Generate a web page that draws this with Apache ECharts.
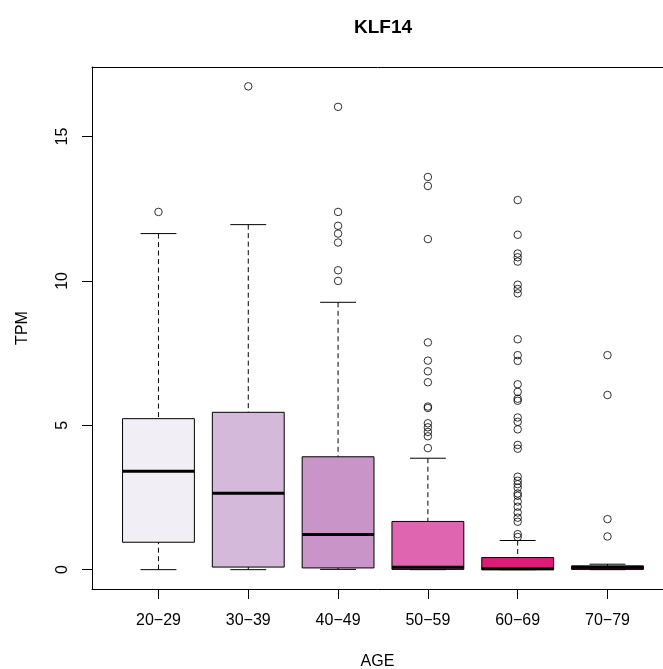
<!DOCTYPE html>
<html>
<head>
<meta charset="utf-8">
<script src="https://cdn.jsdelivr.net/npm/echarts@6/dist/echarts.min.js"></script>
<style>
  html, body { margin: 0; padding: 0; background: #fff; }
  #chart { width: 663px; height: 669px; }
</style>
</head>
<body>
<div id="chart"></div>
<script>
const ageGroups = ["20\u221229", "30\u221239", "40\u221249", "50\u221259", "60\u221269", "70\u221279"]
const whiskerLow = [0, 0, 0.01, 0, 0, 0]
const lowerQuartile = [0.95, 0.09, 0.06, 0.01, 0.0, 0.01]
const medians = [3.41, 2.65, 1.22, 0.08, 0.03, 0.08]
const upperQuartile = [5.23, 5.45, 3.91, 1.67, 0.42, 0.13]
const whiskerHigh = [11.64, 11.95, 9.26, 3.86, 1.01, 0.19]
const outliers = [
  [12.39],
  [16.74],
  [16.03, 12.39, 11.91, 11.64, 11.33, 10.37, 10.0],
  [13.6, 13.29, 11.45, 7.87, 7.24, 6.87, 6.49, 5.65, 5.6, 5.07, 4.93, 4.77, 4.62, 4.21],
  [12.8, 11.6, 10.95, 10.82, 10.67, 9.87, 9.72, 9.57, 7.98, 7.43, 7.23, 6.42, 6.16,
   5.92, 5.85, 5.27, 5.12, 4.86, 4.32, 4.19, 3.22, 3.08, 2.96, 2.84, 2.64, 2.56,
   2.36, 2.18, 1.98, 1.8, 1.66, 1.23, 1.13],
  [7.43, 6.05, 1.75, 1.15]
]
const yTicks = [0, 5, 10, 15]

// PuRd palette, one per box
const boxColors = ["#F1EEF6", "#D4B9DA", "#C994C7", "#DF65B0", "#DD1C77", "#980043"]
const font = "Liberation Sans, Arial, Helvetica, sans-serif"

const positions = ageGroups.map((_, i) => i + 1)
const boxData = positions.map((x, i) =>
  [x, whiskerLow[i], lowerQuartile[i], medians[i], upperQuartile[i], whiskerHigh[i]])
const outlierData = []
outliers.forEach((list, i) => list.forEach(v => outlierData.push([positions[i], v])))

// R style range: data range padded by 4%
const dataMax = Math.max(...whiskerHigh, ...outliers.flat())
const dataMin = Math.min(...whiskerLow)
const pad = (dataMax - dataMin) * 0.04
// the plot region runs past the right edge of the picture (to x = 6.74),
// so the visible part ends a bit before that
const xMin = 0.26
const xMax = 6.618

function renderBox(params, api) {
  const x = api.value(0)
  const half = api.size([0.8, 0])[0] / 2
  const staple = half / 2
  const lo = api.coord([x, api.value(1)])
  const q1 = api.coord([x, api.value(2)])
  const md = api.coord([x, api.value(3)])
  const q3 = api.coord([x, api.value(4)])
  const hi = api.coord([x, api.value(5)])
  const dash = { stroke: "#000", lineWidth: 1, lineDash: [5, 3.5] }
  const solid = { stroke: "#000", lineWidth: 1 }
  return {
    type: "group",
    children: [
      { type: "line", shape: { x1: hi[0], y1: hi[1], x2: q3[0], y2: q3[1] }, style: dash },
      { type: "line", shape: { x1: lo[0], y1: lo[1], x2: q1[0], y2: q1[1] }, style: dash },
      { type: "line", shape: { x1: hi[0] - staple, y1: hi[1], x2: hi[0] + staple, y2: hi[1] }, style: solid },
      { type: "line", shape: { x1: lo[0] - staple, y1: lo[1], x2: lo[0] + staple, y2: lo[1] }, style: solid },
      {
        type: "rect",
        shape: { x: q3[0] - half, y: q3[1], width: half * 2, height: q1[1] - q3[1] },
        style: { fill: boxColors[params.dataIndex], stroke: "#000", lineWidth: 1 }
      },
      { type: "line", shape: { x1: md[0] - half, y1: md[1], x2: md[0] + half, y2: md[1] }, style: { stroke: "#000", lineWidth: 3 } }
    ]
  }
}

const chart = echarts.init(document.getElementById("chart"))
chart.setOption({
  animation: false,
  backgroundColor: "#fff",
  title: {
    text: "KLF14",
    left: 383,
    top: 18,
    padding: 0,
    textAlign: "center",
    textStyle: { fontFamily: font, fontSize: 19, fontWeight: "bold", color: "#000" }
  },
  grid: {
    left: 92,
    top: 67,
    right: 0,
    bottom: 80,
    show: false,
    containLabel: false,
    outerBoundsMode: "none"
  },
  xAxis: [
    {
      type: "value",
      min: xMin,
      max: xMax,
      name: "AGE",
      nameLocation: "middle",
      nameGap: 65,
      nameTextStyle: { fontFamily: font, fontSize: 16, color: "#000" },
      axisLine: { show: true, onZero: false, lineStyle: { color: "#000", width: 1 } },
      splitLine: { show: false },
      axisTick: { show: true, length: 10, lineStyle: { color: "#000" }, customValues: positions },
      axisLabel: {
        customValues: positions,
        margin: 24,
        fontFamily: font,
        fontSize: 16,
        color: "#000",
        formatter: v => ageGroups[Math.round(v) - 1] || ""
      }
    },
    {
      type: "value",
      position: "top",
      min: xMin,
      max: xMax,
      axisLine: { show: true, onZero: false, lineStyle: { color: "#000", width: 1 } },
      splitLine: { show: false },
      axisTick: { show: false },
      axisLabel: { show: false }
    }
  ],
  yAxis: {
    type: "value",
    min: dataMin - pad,
    max: dataMax + pad,
    name: "TPM",
    nameLocation: "middle",
    nameGap: 61,
    nameTextStyle: { fontFamily: font, fontSize: 16, color: "#000" },
    axisLine: { show: true, onZero: false, lineStyle: { color: "#000", width: 1 } },
    splitLine: { show: false },
    axisTick: { show: true, length: 10, lineStyle: { color: "#000" }, customValues: yTicks },
    axisLabel: {
      customValues: yTicks,
      rotate: 90,
      margin: 21,
      fontFamily: font,
      fontSize: 16,
      color: "#000"
    }
  },
  series: [
    {
      type: "custom",
      renderItem: renderBox,
      encode: { x: 0, y: [1, 2, 3, 4, 5] },
      data: boxData
    },
    {
      type: "scatter",
      symbol: "circle",
      symbolSize: 7.5,
      itemStyle: { color: "rgba(0,0,0,0)", borderColor: "#000", borderWidth: 1 },
      data: outlierData
    }
  ]
})
</script>
</body>
</html>
